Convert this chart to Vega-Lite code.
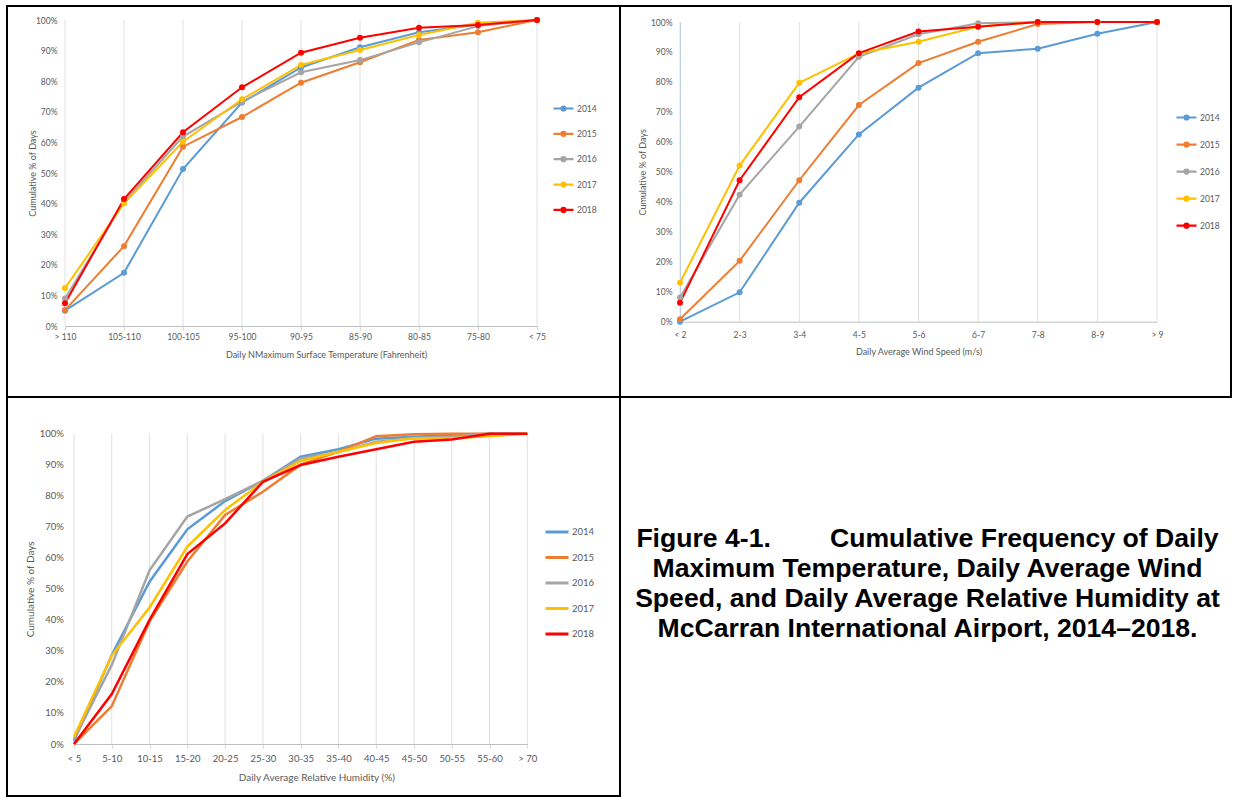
{
  "$schema": "https://vega.github.io/schema/vega-lite/v6.json",
  "padding": {"left": 6, "top": 5, "right": 0, "bottom": 0},
  "background": "white",
  "bounds": "flush",
  "spacing": 0,
  "columns": 2,
  "resolve": {"legend": {"color": "independent"}},
  "datasets": {
    "temp": [
      {"year": "2014", "cat": "> 110", "pct": 0.05},
      {"year": "2014", "cat": "105-110", "pct": 0.174},
      {"year": "2014", "cat": "100-105", "pct": 0.513},
      {"year": "2014", "cat": "95-100", "pct": 0.73},
      {"year": "2014", "cat": "90-95", "pct": 0.845},
      {"year": "2014", "cat": "85-90", "pct": 0.911},
      {"year": "2014", "cat": "80-85", "pct": 0.96},
      {"year": "2014", "cat": "75-80", "pct": 0.985},
      {"year": "2014", "cat": "< 75", "pct": 1.0},
      {"year": "2015", "cat": "> 110", "pct": 0.052},
      {"year": "2015", "cat": "105-110", "pct": 0.261},
      {"year": "2015", "cat": "100-105", "pct": 0.586},
      {"year": "2015", "cat": "95-100", "pct": 0.683},
      {"year": "2015", "cat": "90-95", "pct": 0.795},
      {"year": "2015", "cat": "85-90", "pct": 0.862},
      {"year": "2015", "cat": "80-85", "pct": 0.935},
      {"year": "2015", "cat": "75-80", "pct": 0.96},
      {"year": "2015", "cat": "< 75", "pct": 1.0},
      {"year": "2016", "cat": "> 110", "pct": 0.09},
      {"year": "2016", "cat": "105-110", "pct": 0.405},
      {"year": "2016", "cat": "100-105", "pct": 0.619},
      {"year": "2016", "cat": "95-100", "pct": 0.733},
      {"year": "2016", "cat": "90-95", "pct": 0.829},
      {"year": "2016", "cat": "85-90", "pct": 0.869},
      {"year": "2016", "cat": "80-85", "pct": 0.927},
      {"year": "2016", "cat": "75-80", "pct": 0.98},
      {"year": "2016", "cat": "< 75", "pct": 1.0},
      {"year": "2017", "cat": "> 110", "pct": 0.124},
      {"year": "2017", "cat": "105-110", "pct": 0.401},
      {"year": "2017", "cat": "100-105", "pct": 0.602},
      {"year": "2017", "cat": "95-100", "pct": 0.741},
      {"year": "2017", "cat": "90-95", "pct": 0.853},
      {"year": "2017", "cat": "85-90", "pct": 0.902},
      {"year": "2017", "cat": "80-85", "pct": 0.951},
      {"year": "2017", "cat": "75-80", "pct": 0.991},
      {"year": "2017", "cat": "< 75", "pct": 1.0},
      {"year": "2018", "cat": "> 110", "pct": 0.074},
      {"year": "2018", "cat": "105-110", "pct": 0.415},
      {"year": "2018", "cat": "100-105", "pct": 0.633},
      {"year": "2018", "cat": "95-100", "pct": 0.78},
      {"year": "2018", "cat": "90-95", "pct": 0.893},
      {"year": "2018", "cat": "85-90", "pct": 0.942},
      {"year": "2018", "cat": "80-85", "pct": 0.975},
      {"year": "2018", "cat": "75-80", "pct": 0.984},
      {"year": "2018", "cat": "< 75", "pct": 1.0}
    ],
    "wind": [
      {"year": "2014", "cat": "< 2", "pct": 0.0},
      {"year": "2014", "cat": "2-3", "pct": 0.098},
      {"year": "2014", "cat": "3-4", "pct": 0.397},
      {"year": "2014", "cat": "4-5", "pct": 0.625},
      {"year": "2014", "cat": "5-6", "pct": 0.781},
      {"year": "2014", "cat": "6-7", "pct": 0.896},
      {"year": "2014", "cat": "7-8", "pct": 0.911},
      {"year": "2014", "cat": "8-9", "pct": 0.961},
      {"year": "2014", "cat": "> 9", "pct": 1.0},
      {"year": "2015", "cat": "< 2", "pct": 0.008},
      {"year": "2015", "cat": "2-3", "pct": 0.203},
      {"year": "2015", "cat": "3-4", "pct": 0.472},
      {"year": "2015", "cat": "4-5", "pct": 0.723},
      {"year": "2015", "cat": "5-6", "pct": 0.863},
      {"year": "2015", "cat": "6-7", "pct": 0.934},
      {"year": "2015", "cat": "7-8", "pct": 0.993},
      {"year": "2015", "cat": "8-9", "pct": 1.0},
      {"year": "2015", "cat": "> 9", "pct": 1.0},
      {"year": "2016", "cat": "< 2", "pct": 0.081},
      {"year": "2016", "cat": "2-3", "pct": 0.424},
      {"year": "2016", "cat": "3-4", "pct": 0.651},
      {"year": "2016", "cat": "4-5", "pct": 0.884},
      {"year": "2016", "cat": "5-6", "pct": 0.959},
      {"year": "2016", "cat": "6-7", "pct": 0.996},
      {"year": "2016", "cat": "7-8", "pct": 1.0},
      {"year": "2016", "cat": "8-9", "pct": 1.0},
      {"year": "2016", "cat": "> 9", "pct": 1.0},
      {"year": "2017", "cat": "< 2", "pct": 0.13},
      {"year": "2017", "cat": "2-3", "pct": 0.521},
      {"year": "2017", "cat": "3-4", "pct": 0.797},
      {"year": "2017", "cat": "4-5", "pct": 0.895},
      {"year": "2017", "cat": "5-6", "pct": 0.934},
      {"year": "2017", "cat": "6-7", "pct": 0.985},
      {"year": "2017", "cat": "7-8", "pct": 1.0},
      {"year": "2017", "cat": "8-9", "pct": 1.0},
      {"year": "2017", "cat": "> 9", "pct": 1.0},
      {"year": "2018", "cat": "< 2", "pct": 0.063},
      {"year": "2018", "cat": "2-3", "pct": 0.472},
      {"year": "2018", "cat": "3-4", "pct": 0.749},
      {"year": "2018", "cat": "4-5", "pct": 0.896},
      {"year": "2018", "cat": "5-6", "pct": 0.968},
      {"year": "2018", "cat": "6-7", "pct": 0.984},
      {"year": "2018", "cat": "7-8", "pct": 1.0},
      {"year": "2018", "cat": "8-9", "pct": 1.0},
      {"year": "2018", "cat": "> 9", "pct": 1.0}
    ],
    "hum": [
      {"year": "2014", "cat": "< 5", "pct": 0.01},
      {"year": "2014", "cat": "5-10", "pct": 0.287},
      {"year": "2014", "cat": "10-15", "pct": 0.523},
      {"year": "2014", "cat": "15-20", "pct": 0.692},
      {"year": "2014", "cat": "20-25", "pct": 0.783},
      {"year": "2014", "cat": "25-30", "pct": 0.848},
      {"year": "2014", "cat": "30-35", "pct": 0.926},
      {"year": "2014", "cat": "35-40", "pct": 0.95},
      {"year": "2014", "cat": "40-45", "pct": 0.984},
      {"year": "2014", "cat": "45-50", "pct": 0.99},
      {"year": "2014", "cat": "50-55", "pct": 0.995},
      {"year": "2014", "cat": "55-60", "pct": 1.0},
      {"year": "2014", "cat": "> 70", "pct": 1.0},
      {"year": "2015", "cat": "< 5", "pct": 0.0},
      {"year": "2015", "cat": "5-10", "pct": 0.122},
      {"year": "2015", "cat": "10-15", "pct": 0.395},
      {"year": "2015", "cat": "15-20", "pct": 0.588},
      {"year": "2015", "cat": "20-25", "pct": 0.738},
      {"year": "2015", "cat": "25-30", "pct": 0.813},
      {"year": "2015", "cat": "30-35", "pct": 0.9},
      {"year": "2015", "cat": "35-40", "pct": 0.942},
      {"year": "2015", "cat": "40-45", "pct": 0.992},
      {"year": "2015", "cat": "45-50", "pct": 0.998},
      {"year": "2015", "cat": "50-55", "pct": 1.0},
      {"year": "2015", "cat": "55-60", "pct": 1.0},
      {"year": "2015", "cat": "> 70", "pct": 1.0},
      {"year": "2016", "cat": "< 5", "pct": 0.015},
      {"year": "2016", "cat": "5-10", "pct": 0.255},
      {"year": "2016", "cat": "10-15", "pct": 0.56},
      {"year": "2016", "cat": "15-20", "pct": 0.733},
      {"year": "2016", "cat": "20-25", "pct": 0.789},
      {"year": "2016", "cat": "25-30", "pct": 0.848},
      {"year": "2016", "cat": "30-35", "pct": 0.92},
      {"year": "2016", "cat": "35-40", "pct": 0.94},
      {"year": "2016", "cat": "40-45", "pct": 0.974},
      {"year": "2016", "cat": "45-50", "pct": 0.985},
      {"year": "2016", "cat": "50-55", "pct": 0.99},
      {"year": "2016", "cat": "55-60", "pct": 1.0},
      {"year": "2016", "cat": "> 70", "pct": 1.0},
      {"year": "2017", "cat": "< 5", "pct": 0.023},
      {"year": "2017", "cat": "5-10", "pct": 0.285},
      {"year": "2017", "cat": "10-15", "pct": 0.44},
      {"year": "2017", "cat": "15-20", "pct": 0.636},
      {"year": "2017", "cat": "20-25", "pct": 0.754},
      {"year": "2017", "cat": "25-30", "pct": 0.845},
      {"year": "2017", "cat": "30-35", "pct": 0.912},
      {"year": "2017", "cat": "35-40", "pct": 0.942},
      {"year": "2017", "cat": "40-45", "pct": 0.97},
      {"year": "2017", "cat": "45-50", "pct": 0.985},
      {"year": "2017", "cat": "50-55", "pct": 0.985},
      {"year": "2017", "cat": "55-60", "pct": 0.992},
      {"year": "2017", "cat": "> 70", "pct": 1.0},
      {"year": "2018", "cat": "< 5", "pct": 0.0},
      {"year": "2018", "cat": "5-10", "pct": 0.161},
      {"year": "2018", "cat": "10-15", "pct": 0.4},
      {"year": "2018", "cat": "15-20", "pct": 0.612},
      {"year": "2018", "cat": "20-25", "pct": 0.711},
      {"year": "2018", "cat": "25-30", "pct": 0.845},
      {"year": "2018", "cat": "30-35", "pct": 0.899},
      {"year": "2018", "cat": "35-40", "pct": 0.926},
      {"year": "2018", "cat": "40-45", "pct": 0.95},
      {"year": "2018", "cat": "45-50", "pct": 0.974},
      {"year": "2018", "cat": "50-55", "pct": 0.981},
      {"year": "2018", "cat": "55-60", "pct": 1.0},
      {"year": "2018", "cat": "> 70", "pct": 1.0}
    ],
    "caption": [
      {"lines": ["Figure 4-1.\u00a0\u00a0\u00a0\u00a0\u00a0\u00a0\u00a0\u00a0Cumulative Frequency of Daily", "Maximum Temperature, Daily Average Wind", "Speed, and Daily Average Relative Humidity at", "McCarran International Airport, 2014\u20132018."]}
    ]
  },
  "concat": [
    {
      "width": 613,
      "height": 391,
      "data": {"name": "temp"},
      "encoding": {
        "x": {
          "field": "cat", "type": "ordinal",
          "sort": ["> 110", "105-110", "100-105", "95-100", "90-95", "85-90", "80-85", "75-80", "< 75"],
          "scale": {"type": "point", "range": [58, 530], "padding": 0},
          "axis": {"title": "Daily NMaximum Surface Temperature (Fahrenheit)", "offset": -71, "labelAngle": 0, "grid": false, "domain": true, "domainColor": "#bfbfbf", "tickSize": 4, "labelPadding": 2, "titleX": 319, "titleY": 28, "titleBaseline": "middle"}
        }
      },
      "layer": [
        {
          "transform": [{"filter": {"field": "year", "equal": "2014"}}],
          "mark": {"type": "rule", "color": "#e0e0e0", "strokeWidth": 1},
          "encoding": {
            "y": {"datum": 0, "type": "quantitative", "scale": {"domain": [0, 1], "range": [320, 14], "nice": false},
              "axis": {"title": "Cumulative % of Days", "offset": -58, "format": ".0%", "values": [0, 0.1, 0.2, 0.3, 0.4, 0.5, 0.6, 0.7, 0.8, 0.9, 1], "domain": false, "ticks": false, "labelPadding": 8, "titleX": -33, "titleY": 167, "titleBaseline": "middle"}},
            "y2": {"datum": 1}
          }
        },
        {
          "mark": {"type": "line", "strokeWidth": 2, "point": {"filled": true, "size": 36}},
          "encoding": {
            "y": {
              "field": "pct", "type": "quantitative",
              "scale": {"domain": [0, 1], "range": [320, 14], "nice": false},
              "axis": {"title": "Cumulative % of Days", "offset": -58, "format": ".0%", "values": [0, 0.1, 0.2, 0.3, 0.4, 0.5, 0.6, 0.7, 0.8, 0.9, 1], "domain": false, "ticks": false, "labelPadding": 8, "titleX": -33, "titleY": 167, "titleBaseline": "middle"}
            },
            "color": {
              "field": "year", "type": "nominal",
              "scale": {"domain": ["2014", "2015", "2016", "2017", "2018"], "range": ["#5B9BD5", "#ED7D31", "#A5A5A5", "#FFC000", "#FF0000"]},
              "legend": {
                "title": null, "orient": "none", "legendX": 545, "legendY": 91, "padding": 0,
                "symbolType": "M-1,0L1,0M-0.2,0A0.2,0.2,0,1,1,0.2,0A0.2,0.2,0,1,1,-0.2,0Z",
                "symbolSize": 400, "symbolStrokeWidth": 2.2, "labelOffset": 2, "rowPadding": 7.35,
                "labelFontSize": 8.5, "labelColor": "#595959"
              }
            },
            "order": {"value": null}
          }
        }
      ]
    },
    {
      "width": 611,
      "height": 391,
      "data": {"name": "wind"},
      "encoding": {
        "x": {
          "field": "cat", "type": "ordinal",
          "sort": ["< 2", "2-3", "3-4", "4-5", "5-6", "6-7", "7-8", "8-9", "> 9"],
          "scale": {"type": "point", "range": [60, 537], "padding": 0},
          "axis": {"title": "Daily Average Wind Speed (m/s)", "offset": -75.3, "labelAngle": 0, "grid": false, "domain": true, "domainColor": "#bfbfbf", "tickSize": 0, "labelPadding": 9, "titleX": 298.5, "titleY": 30, "titleBaseline": "middle"}
        }
      },
      "layer": [
        {
          "transform": [{"filter": {"field": "year", "equal": "2014"}}],
          "mark": {"type": "rule", "color": "#e0e0e0", "strokeWidth": 1},
          "encoding": {
            "y": {"datum": 0, "type": "quantitative", "scale": {"domain": [0, 1], "range": [315.7, 16], "nice": false},
              "axis": {"title": "Cumulative % of Days", "offset": -60, "format": ".0%", "values": [0, 0.1, 0.2, 0.3, 0.4, 0.5, 0.6, 0.7, 0.8, 0.9, 1], "domain": true, "domainColor": "#9dc3e6", "ticks": false, "labelPadding": 8, "titleX": -37.3, "titleY": 165.85, "titleBaseline": "middle"}},
            "y2": {"datum": 1}
          }
        },
        {
          "mark": {"type": "line", "strokeWidth": 2, "point": {"filled": true, "size": 36}},
          "encoding": {
            "y": {
              "field": "pct", "type": "quantitative",
              "scale": {"domain": [0, 1], "range": [315.7, 16], "nice": false},
              "axis": {"title": "Cumulative % of Days", "offset": -60, "format": ".0%", "values": [0, 0.1, 0.2, 0.3, 0.4, 0.5, 0.6, 0.7, 0.8, 0.9, 1], "domain": true, "domainColor": "#9dc3e6", "ticks": false, "labelPadding": 8, "titleX": -37.3, "titleY": 165.85, "titleBaseline": "middle"}
            },
            "color": {
              "field": "year", "type": "nominal",
              "scale": {"domain": ["2014", "2015", "2016", "2017", "2018"], "range": ["#5B9BD5", "#ED7D31", "#A5A5A5", "#FFC000", "#FF0000"]},
              "legend": {
                "title": null, "orient": "none", "legendX": 555, "legendY": 100, "padding": 0,
                "symbolType": "M-1,0L1,0M-0.2,0A0.2,0.2,0,1,1,0.2,0A0.2,0.2,0,1,1,-0.2,0Z",
                "symbolSize": 400, "symbolStrokeWidth": 2.2, "labelOffset": 2, "rowPadding": 9.05,
                "labelFontSize": 8.5, "labelColor": "#595959"
              }
            },
            "order": {"value": null}
          }
        }
      ]
    },
    {
      "width": 613,
      "height": 399,
      "data": {"name": "hum"},
      "encoding": {
        "x": {
          "field": "cat", "type": "ordinal",
          "sort": ["< 5", "5-10", "10-15", "15-20", "20-25", "25-30", "30-35", "35-40", "40-45", "45-50", "50-55", "55-60", "> 70"],
          "scale": {"type": "point", "range": [67, 520.3], "padding": 0},
          "axis": {"title": "Daily Average Relative Humidity (%)", "offset": -52, "labelAngle": 0, "grid": false, "domain": true, "domainColor": "#bfbfbf", "tickSize": 4, "labelPadding": 5, "labelFontSize": 9.5, "titleFontSize": 10, "titleX": 309.3, "titleY": 33.7, "titleBaseline": "middle"}
        }
      },
      "layer": [
        {
          "transform": [{"filter": {"field": "year", "equal": "2014"}}],
          "mark": {"type": "rule", "color": "#e0e0e0", "strokeWidth": 1},
          "encoding": {
            "y": {"datum": 0, "type": "quantitative", "scale": {"domain": [0, 1], "range": [347, 36.7], "nice": false},
              "axis": {"title": "Cumulative % of Days", "offset": -67, "format": ".0%", "values": [0, 0.1, 0.2, 0.3, 0.4, 0.5, 0.6, 0.7, 0.8, 0.9, 1], "domain": false, "ticks": false, "labelPadding": 10.7, "labelFontSize": 9.5, "titleFontSize": 10, "titleX": -43.3, "titleY": 191.85, "titleBaseline": "middle"}},
            "y2": {"datum": 1}
          }
        },
        {
          "mark": {"type": "line", "strokeWidth": 2.5},
          "encoding": {
            "y": {
              "field": "pct", "type": "quantitative",
              "scale": {"domain": [0, 1], "range": [347, 36.7], "nice": false},
              "axis": {"title": "Cumulative % of Days", "offset": -67, "format": ".0%", "values": [0, 0.1, 0.2, 0.3, 0.4, 0.5, 0.6, 0.7, 0.8, 0.9, 1], "domain": false, "ticks": false, "labelPadding": 10.7, "labelFontSize": 9.5, "titleFontSize": 10, "titleX": -43.3, "titleY": 191.85, "titleBaseline": "middle"}
            },
            "color": {
              "field": "year", "type": "nominal",
              "scale": {"domain": ["2014", "2015", "2016", "2017", "2018"], "range": ["#5B9BD5", "#ED7D31", "#A5A5A5", "#FFC000", "#FF0000"]},
              "legend": {
                "title": null, "orient": "none", "legendX": 537, "legendY": 122, "padding": 0,
                "symbolType": "stroke", "symbolSize": 529, "symbolStrokeWidth": 3, "labelOffset": 2, "rowPadding": 6.5,
                "labelFontSize": 9.5, "labelColor": "#595959"
              }
            },
            "order": {"value": null}
          }
        }
      ]
    },
    {
      "width": 611,
      "height": 399,
      "data": {"name": "caption"},
      "mark": {"type": "text", "font": "Liberation Sans", "fontWeight": "bold", "fontSize": 26.6, "lineHeight": 30, "align": "center", "baseline": "middle", "dy": -58, "dx": 2, "color": "#000000"},
      "encoding": {"text": {"field": "lines", "type": "nominal"}}
    }
  ],
  "config": {
    "font": "Lato",
    "view": {"stroke": "#000000", "strokeWidth": 2},
    "axis": {
      "labelColor": "#595959", "labelFontSize": 8.5, "labelFont": "Lato",
      "titleColor": "#595959", "titleFontSize": 9, "titleFontWeight": "normal", "titleFont": "Lato",
      "gridColor": "#e0e0e0", "gridWidth": 1, "tickColor": "#d9d9d9", "domainColor": "#bfbfbf"
    },
    "legend": {"labelFont": "Lato"}
  }
}
